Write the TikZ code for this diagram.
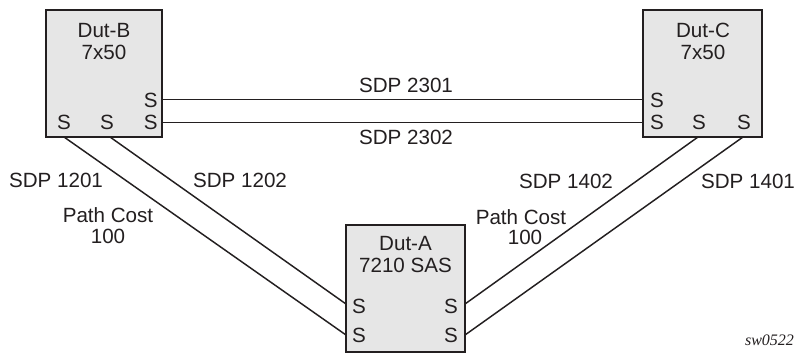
\documentclass[tikz,border=0pt]{standalone}
\usepackage{fontspec}
\setmainfont{Liberation Sans}
\newfontfamily\tagfont{Liberation Serif}
\definecolor{boxgray}{HTML}{E6E6E6}
\definecolor{edge}{HTML}{231F20}
\begin{document}
\begin{tikzpicture}[x=0.75pt,y=-0.75pt,
  dev/.style={draw=edge,line width=2.2pt,fill=boxgray,inner sep=0pt,minimum height=95.25pt},
  lbl/.style={font=\fontsize{15.45}{18}\selectfont,text=edge,inner sep=0pt,anchor=base},
  link/.style={line width=1.1pt,draw=edge}]
\path[fill=white,use as bounding box] (0,0) rectangle (797,356);
% devices
\node[dev,minimum width=87pt] (B) at (104,73.5) {};
\node[dev,minimum width=89.25pt] (C) at (702.5,73.5) {};
\node[dev,minimum width=89.25pt] (A) at (405.5,288.5) {};
% device texts
\node[lbl] (Bt1) at (104,37.4) {Dut-B};
\node[lbl] (Bt2) at (104,59.4) {7x50};
\node[lbl] (Ct1) at (703,37.4) {Dut-C};
\node[lbl] (Ct2) at (703,59.4) {7x50};
\node[lbl] (At1) at (405.5,250.4) {Dut-A};
\node[lbl] (At2) at (405.5,272.4) {7210 SAS};
% S ports
\node[lbl] (Bs1) at (150.7,107.4) {S};
\node[lbl] (Bs2) at (150.7,130) {S};
\node[lbl] (Bs3) at (64,130) {S};
\node[lbl] (Bs4) at (107,130) {S};
\node[lbl] (Cs1) at (657,107.4) {S};
\node[lbl] (Cs2) at (657,130) {S};
\node[lbl] (Cs3) at (699,130) {S};
\node[lbl] (Cs4) at (744,130) {S};
\node[lbl] (As1) at (359,313.4) {S};
\node[lbl] (As2) at (359,342.4) {S};
\node[lbl] (As3) at (451,313.4) {S};
\node[lbl] (As4) at (451,342.4) {S};
% port coordinates
\coordinate (b1) at (64,137);
\coordinate (b2) at (110,137);
\coordinate (b3) at (162,99.3);
\coordinate (b4) at (162,122.7);
\coordinate (c1) at (643,99.3);
\coordinate (c2) at (643,122.7);
\coordinate (c3) at (698,137);
\coordinate (c4) at (743,137);
\coordinate (a1) at (346,304);
\coordinate (a2) at (346,335);
\coordinate (a3) at (465,304);
\coordinate (a4) at (465,335);
% links
\draw[link] (b3) -- (c1);
\draw[link] (b4) -- (c2);
\draw[link] (b1) -- (a2);
\draw[link] (b2) -- (a1);
\draw[link] (c3) -- (a3);
\draw[link] (c4) -- (a4);
% link labels
\node[lbl] (l2301) at (406,92.4) {SDP 2301};
\node[lbl] (l2302) at (406,144.4) {SDP 2302};
\node[lbl] (l1201) at (56,187.4) {SDP 1201};
\node[lbl] (l1202) at (240,187.4) {SDP 1202};
\node[lbl] (pc1a) at (108,222.4) {Path Cost};
\node[lbl] (pc1b) at (108,243.4) {100};
\node[lbl] (l1402) at (566,188.4) {SDP 1402};
\node[lbl] (l1401) at (748,188.4) {SDP 1401};
\node[lbl] (pc2a) at (521,224.4) {Path Cost};
\node[lbl] (pc2b) at (525,244.4) {100};
\node[font=\tagfont\itshape\fontsize{12}{14}\selectfont,text=edge,inner sep=0pt,anchor=base] (tag) at (769.5,345) {sw0522};
\end{tikzpicture}
\end{document}
